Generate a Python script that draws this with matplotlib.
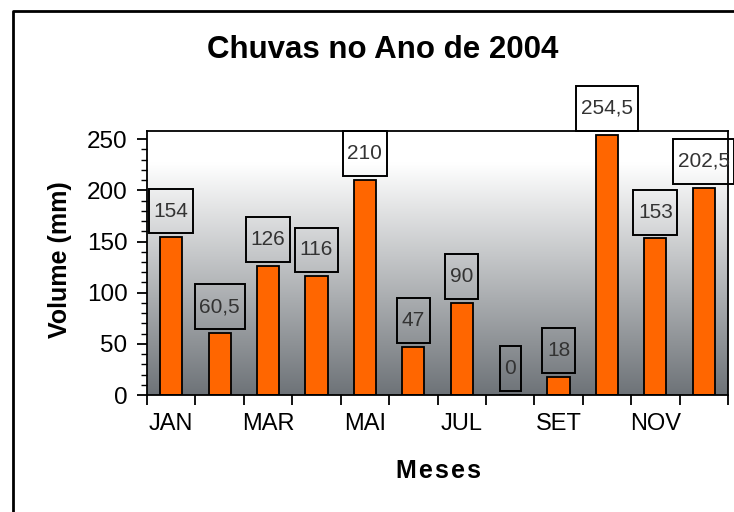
import numpy as np
from matplotlib import pyplot as plt
from matplotlib.path import Path
from matplotlib.lines import Line2D

# chart data
months = ['JAN', 'FEV', 'MAR', 'ABR', 'MAI', 'JUN',
          'JUL', 'AGO', 'SET', 'OUT', 'NOV', 'DEZ']
rain = [154, 60.5, 126, 116, 210, 47, 90, 0, 18, 254.5, 153, 202.5]
shown_labels = ['JAN', 'MAR', 'MAI', 'JUL', 'SET', 'NOV']
y_ticks = [0, 50, 100, 150, 200, 250]

plt.rcParams['font.family'] = ['Liberation Sans', 'DejaVu Sans']


def label_box(x0, y0, width, height, mutation_size):
    # box with more padding above/below than at the sides, like the excel data labels
    px = 0.22 * mutation_size
    py = 0.62 * mutation_size
    x0, y0 = x0 - px, y0 - py
    x1, y1 = x0 + width + 2 * px, y0 + height + 2 * py
    return Path([(x0, y0), (x1, y0), (x1, y1), (x0, y1), (x0, y0)], closed=True)


fig = plt.figure(figsize=(7.34, 5.12), dpi=100)
fig.subplots_adjust(left=0.2003, right=0.9918, top=0.744, bottom=0.2285)
ax = fig.add_subplot(111)

x = np.arange(len(months))
ax.set_xlim(-0.5, len(months) - 0.5)
ax.set_ylim(0, 258)

# gradient background, white at top to grey at bottom
t = np.linspace(0, 1, 256)[:, None]
k = np.clip((t - 0.12) / 0.88, 0, 1)
top = np.array([1.0, 1.0, 1.0])
bot = np.array([0.43, 0.45, 0.47])
grad = top + (bot - top) * k[..., None]
grad = np.repeat(grad, 2, axis=1)
ax.imshow(grad, extent=(-0.5, len(months) - 0.5, 0, 258), aspect='auto',
          origin='upper', zorder=0)

ax.bar(x, rain, width=0.46, color='#ff6600', edgecolor='black', linewidth=1.3, zorder=2)

for xi, v in zip(x, rain):
    txt = ('%g' % v).replace('.', ',')
    ax.annotate(txt, xy=(xi, v), xytext=(0, 19), textcoords='offset points',
                ha='center', va='center', fontsize=15, color='#333333',
                annotation_clip=False, zorder=3,
                bbox=dict(boxstyle=label_box, facecolor='none', edgecolor='black', linewidth=1.4))

# x axis: ticks between bars, labels under every other month
ax.set_xticks(np.arange(-0.5, len(months), 1.0))
ax.set_xticklabels([])
ax.set_xticks([months.index(m) for m in shown_labels], minor=True)
ax.set_xticklabels(shown_labels, minor=True, fontsize=17)
ax.tick_params(axis='x', which='major', direction='out', length=7, width=1.3)
ax.tick_params(axis='x', which='minor', length=0, pad=13)

ax.set_yticks(y_ticks)
ax.set_yticks(np.arange(0, 251, 10), minor=True)
ax.tick_params(axis='y', which='major', direction='out', length=7, width=1.3, labelsize=17.5, pad=7)
ax.tick_params(axis='y', which='minor', direction='out', length=4.5, width=1.0)

for s in ax.spines.values():
    s.set_linewidth(1.3)

fig.text(383 / 734, 1 - 50 / 512, 'Chuvas no Ano de 2004', ha='center', va='center',
         fontsize=22.5, fontweight='bold')
fig.text(60 / 734, 1 - 260 / 512, 'Volume (mm)', ha='center', va='center',
         rotation=90, fontsize=18, fontweight='bold')
fig.text(438 / 734, 1 - 471 / 512, 'M e s e s'.replace(' ', '\u200a'), ha='center', va='center',
         fontsize=18, fontweight='bold')

# outer chart border, runs off the right and bottom edges
fig.add_artist(Line2D([13 / 734, 13 / 734, 1.02], [-0.05, 1 - 11 / 512, 1 - 11 / 512],
                      transform=fig.transFigure, color='black', linewidth=2))

fig.savefig('out.png', dpi=100)
